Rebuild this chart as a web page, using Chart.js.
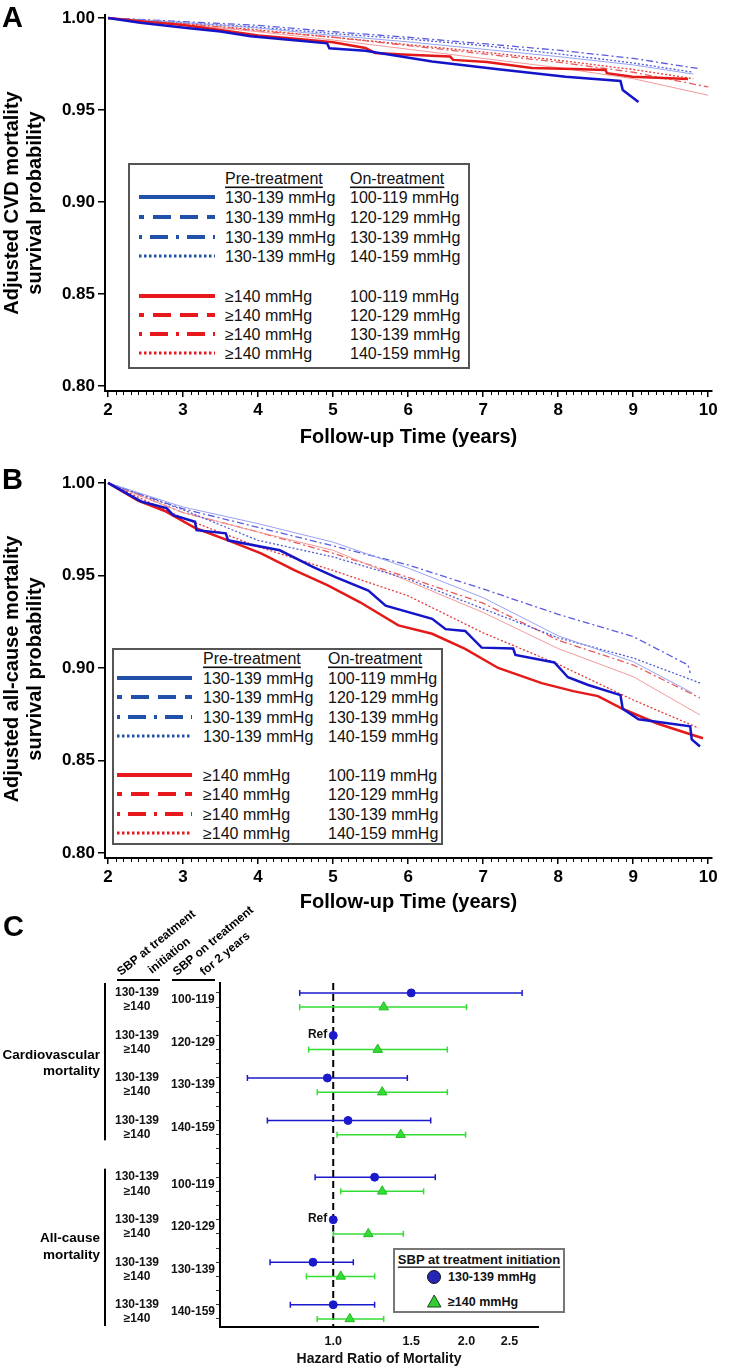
<!DOCTYPE html>
<html>
<head>
<meta charset="utf-8">
<script src="https://cdn.jsdelivr.net/npm/chart.js@4.4.1/dist/chart.umd.min.js"></script>
<style>
body { margin: 0; background: #fff; }
#wrap { position: relative; width: 730px; height: 1369px; overflow: hidden; font-family: "Liberation Sans", Arial, sans-serif; }
canvas, svg, .tag { position: absolute; left: 0; }
.tag { font-weight: bold; font-size: 29px; line-height: 1; color: #000; }
</style>
</head>
<body>
<div id="wrap">
  <canvas id="chartA" width="730" height="450" style="top:0px"></canvas>
  <canvas id="chartB" width="730" height="450" style="top:465px"></canvas>
  <canvas id="chartC" width="730" height="489" style="top:880px"></canvas>
  <div class="tag" style="left:2px;top:3px">A</div>
  <div class="tag" style="left:2px;top:465px">B</div>
  <div class="tag" style="left:3px;top:912px">C</div>
  <svg id="legA" style="left:128px;top:163px" width="342" height="206"></svg>
  <svg id="legB" style="left:112px;top:648px" width="331" height="197"></svg>
  <svg id="legC" style="left:393px;top:1248px" width="172" height="65"></svg>
</div>
<script>
const FONT = '"Liberation Sans", Arial, sans-serif';

// ---- panel A: CVD mortality survival, [years, probability]
const cvdBlue100 = [[2,1.0],[2.43,0.9974],[3.05,0.9946],[3.5,0.9926],[3.9,0.990],[4.3,0.9885],[4.92,0.9862],[4.95,0.9835],[5.43,0.9822],[6.32,0.9763],[7.2,0.9721],[8.1,0.968],[8.83,0.9658],[8.86,0.9609],[9.07,0.9543]];
const cvdBlue120 = [[2,1.0],[3,0.9975],[4,0.9945],[5,0.9905],[6,0.987],[7,0.983],[8,0.979],[9,0.9745],[9.8,0.9695]];
const cvdBlue130 = [[2,1.0],[3,0.998],[4,0.996],[5,0.9925],[6,0.9895],[7,0.986],[8,0.9825],[9,0.978],[9.87,0.9725]];
const cvdBlue140 = [[2,1.0],[3,0.9975],[4,0.995],[5,0.9915],[6,0.9885],[7,0.985],[8,0.9805],[9,0.9755],[9.8,0.9705]];
const cvdRed100 = [[2,1.0],[2.5,0.998],[3,0.9962],[3.5,0.9935],[4,0.9905],[4.5,0.9887],[5,0.9868],[5.43,0.9837],[5.56,0.981],[6.0,0.980],[6.56,0.979],[6.6,0.9772],[7.05,0.976],[7.65,0.9728],[8.2,0.9722],[8.63,0.9717],[8.65,0.970],[8.99,0.968],[9.73,0.9668]];
const cvdRed120 = [[2,1.0],[3,0.9965],[4,0.9925],[5,0.988],[6,0.983],[7,0.978],[8,0.973],[9,0.967],[10,0.958]];
const cvdRed130 = [[2,1.0],[3,0.997],[4,0.993],[5,0.9895],[6,0.985],[7,0.9805],[8,0.976],[9,0.9705],[10,0.9625]];
const cvdRed140 = [[2,1.0],[3,0.997],[4,0.9935],[5,0.9895],[6,0.9855],[7,0.9815],[8,0.977],[9,0.972],[9.8,0.967]];

// ---- panel B: all-cause mortality survival
const allBlue100 = [[2,1.0],[2.44,0.990],[2.78,0.9864],[2.87,0.9826],[3.16,0.979],[3.18,0.9745],[3.57,0.9728],[3.6,0.969],[4.29,0.9636],[4.73,0.9546],[5.04,0.949],[5.47,0.9418],[5.7,0.9337],[6.32,0.9266],[6.5,0.921],[6.76,0.920],[6.98,0.911],[7.4,0.9105],[7.43,0.907],[7.95,0.903],[8.13,0.895],[8.4,0.8908],[8.83,0.8853],[8.86,0.878],[9.07,0.8723],[9.76,0.8685],[9.78,0.8614],[9.89,0.8576]];
const allBlue120 = [[2,1.0],[3,0.987],[4,0.978],[5,0.968],[6,0.954],[7,0.938],[8,0.9174],[9,0.9034],[9.79,0.8865]];
const allBlue130 = [[2,1.0],[3,0.986],[4,0.976],[5,0.966],[6,0.9557],[7,0.9427],[8,0.929],[9,0.917],[9.73,0.9016],[9.76,0.8973]];
const allBlue140 = [[2,1.0],[3,0.9855],[4,0.969],[5,0.960],[6,0.948],[7,0.932],[8,0.9163],[9,0.9054],[9.89,0.8919]];
const allRed100 = [[2,1.0],[2.4,0.9905],[2.75,0.985],[3.17,0.9755],[3.6,0.969],[4.04,0.962],[4.49,0.9527],[4.93,0.9446],[5.36,0.9355],[5.87,0.923],[6.32,0.9185],[6.76,0.9103],[7.2,0.900],[7.78,0.8918],[8.2,0.8875],[8.53,0.8848],[8.87,0.8777],[9.32,0.870],[9.72,0.8647],[9.93,0.862]];
const allRed120 = [[2,1.0],[3,0.984],[4,0.9735],[5,0.9636],[6,0.947],[7,0.930],[8,0.9105],[9,0.8953],[9.89,0.8746]];
const allRed130 = [[2,1.0],[3,0.984],[4,0.9735],[5,0.962],[6,0.949],[7,0.935],[8,0.915],[9,0.9016],[9.89,0.8838]];
const allRed140 = [[2,1.0],[3,0.981],[4,0.9655],[5,0.9527],[6,0.939],[7,0.919],[8,0.902],[9,0.8827],[9.87,0.8676]];

const xTickValues = [2, 3, 4, 5, 6, 7, 8, 9, 10];
const yTickValues = [0.80, 0.85, 0.90, 0.95, 1.00];

// ---- legend text
const legendPre = ['130-139 mmHg','130-139 mmHg','130-139 mmHg','130-139 mmHg','≥140 mmHg','≥140 mmHg','≥140 mmHg','≥140 mmHg'];
const legendOn = ['100-119 mmHg','120-129 mmHg','130-139 mmHg','140-159 mmHg','100-119 mmHg','120-129 mmHg','130-139 mmHg','140-159 mmHg'];

// ---- panel C: hazard ratios (point, lower, upper); null = reference, no CI
const onTreatment = ['100-119', '120-129', '130-139', '140-159'];
const cvdBlueHR = [1.50, 1.00, 0.97, 1.08];
const cvdBlueLo = [0.84, null, 0.64, 0.71];
const cvdBlueHi = [2.67, null, 1.47, 1.66];
const cvdGreenHR = [1.30, 1.26, 1.29, 1.42];
const cvdGreenLo = [0.84, 0.88, 0.92, 1.02];
const cvdGreenHi = [2.00, 1.81, 1.81, 1.99];
const allBlueHR = [1.24, 1.00, 0.90, 1.00];
const allBlueLo = [0.91, null, 0.72, 0.80];
const allBlueHi = [1.70, null, 1.11, 1.24];
const allGreenHR = [1.29, 1.20, 1.04, 1.09];
const allGreenLo = [1.04, 1.00, 0.87, 0.92];
const allGreenHi = [1.60, 1.44, 1.24, 1.30];
const hrTicks = [1.0, 1.5, 2.0, 2.5];

// styles
const BLUE = '#1414c8', RED = '#e41a1a';
const styleThickBlue = { color: BLUE, width: 2.5 };
const styleThickRed = { color: RED, width: 2.5 };
const styleBlue120 = { color: '#97a3f2', width: 1 };
const styleBlue130 = { color: '#5b5be0', width: 1.3, dash: [7, 3, 2, 3] };
const styleBlue140 = { color: '#4e5bd8', width: 1.3, dash: [2, 2] };
const styleRed120 = { color: '#f49a9a', width: 1 };
const styleRed130 = { color: '#e85a5a', width: 1.3, dash: [7, 3, 2, 3] };
const styleRed140 = { color: '#e23a3a', width: 1.3, dash: [2, 2] };

function toXY(arr) { return arr.map(p => ({ x: p[0], y: p[1] })); }

const minorTicks = {
  id: 'minorTicks',
  afterDraw(chart) {
    const sx = chart.scales.x, ctx = chart.ctx, y0 = chart.chartArea.bottom;
    ctx.save();
    ctx.strokeStyle = '#000';
    ctx.lineWidth = 1;
    for (let i = 20; i <= 100; i++) {
      if (i % 10 === 0) continue;
      const px = Math.round(sx.getPixelForValue(i / 10)) + 0.5;
      ctx.beginPath(); ctx.moveTo(px, y0 + 1); ctx.lineTo(px, y0 + 4); ctx.stroke();
    }
    ctx.restore();
  }
};

function makeSurvival(id, curves, yTitle, padTop, xAxisH) {
  return new Chart(document.getElementById(id), {
    type: 'line',
    data: {
      datasets: curves.map(c => ({
        data: toXY(c[0]),
        borderColor: c[1].color,
        borderWidth: c[1].width,
        borderDash: c[1].dash || [],
        pointRadius: 0,
        tension: 0,
        fill: false
      }))
    },
    options: {
      responsive: false,
      animation: false,
      events: [],
      layout: { padding: { left: 0, right: 18, top: padTop, bottom: 0 } },
      plugins: { legend: { display: false }, tooltip: { enabled: false } },
      scales: {
        x: {
          type: 'linear', min: 1.96, max: 10.05,
          afterBuildTicks: s => { s.ticks = xTickValues.map(v => ({ value: v })); },
          afterFit: s => { s.height = xAxisH; },
          border: { color: '#000', width: 2 },
          grid: { drawOnChartArea: false, color: '#000', tickLength: 6, lineWidth: 1.5 },
          ticks: { color: '#000', padding: 3, maxRotation: 0, font: { family: FONT, size: 17, weight: 'bold' }, callback: v => String(v) },
          title: { display: true, text: 'Follow-up Time (years)', color: '#000', font: { family: FONT, size: 20, weight: 'bold' }, padding: { top: 0, bottom: 1 } }
        },
        y: {
          type: 'linear', min: 0.7973, max: 1.0016,
          afterBuildTicks: s => { s.ticks = yTickValues.map(v => ({ value: v })); },
          afterFit: s => { s.width = 105; },
          border: { color: '#000', width: 2 },
          grid: { drawOnChartArea: false, color: '#000', tickLength: 7, lineWidth: 1.5 },
          ticks: { color: '#000', padding: 3, font: { family: FONT, size: 17, weight: 'bold' }, callback: v => v.toFixed(2) },
          title: { display: true, text: yTitle, color: '#000', font: { family: FONT, size: 20, weight: 'bold', lineHeight: 1.15 }, padding: { top: 1, bottom: 0 } }
        }
      }
    },
    plugins: [minorTicks]
  });
}

makeSurvival('chartA', [
  [cvdBlue100, styleThickBlue], [cvdRed100, styleThickRed],
  [cvdBlue120, styleBlue120], [cvdBlue130, styleBlue130], [cvdBlue140, styleBlue140],
  [cvdRed120, styleRed120], [cvdRed130, styleRed130], [cvdRed140, styleRed140]
], ['Adjusted CVD mortality', 'survival probability'], 15, 59);

makeSurvival('chartB', [
  [allBlue100, styleThickBlue], [allRed100, styleThickRed],
  [allBlue120, styleBlue120], [allBlue130, styleBlue130], [allBlue140, styleBlue140],
  [allRed120, styleRed120], [allRed130, styleRed130], [allRed140, styleRed140]
], ['Adjusted all-cause mortality', 'survival probability'], 15, 57);

// ---- legends A and B
const sampleStyles = [
  { w: 4, dash: null, off: 0 },
  { w: 4, dash: '18 9', off: 13 },
  { w: 4, dash: '3 8 18 8', off: 0 },
  { w: 3, dash: '2.5 2.5', off: 0 }
];
function buildLegend(id, g) {
  const svg = document.getElementById(id);
  let s = `<rect x="1" y="1" width="${g.w - 2}" height="${g.h - 2}" fill="#fff" stroke="#555" stroke-width="2"/>`;
  s += `<g font-family='${FONT}' font-size="16" fill="#111" dominant-baseline="central">`;
  s += `<text x="${g.c1}" y="${g.head}" text-decoration="underline">Pre-treatment</text>`;
  s += `<text x="${g.c2}" y="${g.head}" text-decoration="underline">On-treatment</text>`;
  g.rows.forEach((ry, i) => {
    const st = sampleStyles[i % 4];
    const col = i < 4 ? '#2050a8' : '#e8191c';
    s += `<line x1="${g.l0}" x2="${g.l1}" y1="${ry}" y2="${ry}" stroke="${col}" stroke-width="${st.w}"` +
      (st.dash ? ` stroke-dasharray="${st.dash}" stroke-dashoffset="${st.off}"` : '') + '/>';
    s += `<text x="${g.c1}" y="${ry}">${legendPre[i]}</text>`;
    s += `<text x="${g.c2}" y="${ry}">${legendOn[i]}</text>`;
  });
  s += '</g>';
  svg.innerHTML = s;
}
buildLegend('legA', { w: 342, h: 206, head: 15, rows: [34, 54, 74, 93, 133, 152, 171, 190], l0: 11, l1: 87, c1: 97, c2: 222 });
buildLegend('legB', { w: 331, h: 197, head: 10, rows: [30, 49, 69, 88, 127, 146, 166, 185], l0: 5, l1: 80, c1: 91, c2: 216 });

// ---- panel C forest plot (canvas starts at page y 880)
const C_BLUE = '#1a1acc', C_GREEN = '#33dd33';
const blueRows = [0, 3, 6, 9, 13, 16, 19, 22];
const greenRows = blueRows.map(u => u + 1);
const blueHR = cvdBlueHR.concat(allBlueHR), blueLo = cvdBlueLo.concat(allBlueLo), blueHi = cvdBlueHi.concat(allBlueHi);
const greenHR = cvdGreenHR.concat(allGreenHR), greenLo = cvdGreenLo.concat(allGreenLo), greenHi = cvdGreenHi.concat(allGreenHi);

const ciSets = [];
blueRows.forEach((u, i) => { if (blueLo[i] !== null) ciSets.push({ lo: blueLo[i], hi: blueHi[i], u, color: C_BLUE }); });
greenRows.forEach((u, i) => { ciSets.push({ lo: greenLo[i], hi: greenHi[i], u, color: C_GREEN }); });

const forestDecor = {
  id: 'forestDecor',
  beforeDatasetsDraw(chart) {
    const { ctx, chartArea } = chart, sx = chart.scales.x;
    const px = sx.getPixelForValue(1);
    ctx.save();
    ctx.strokeStyle = '#000'; ctx.lineWidth = 2; ctx.setLineDash([7, 4]);
    ctx.beginPath(); ctx.moveTo(px, chartArea.top); ctx.lineTo(px, chartArea.bottom); ctx.stroke();
    ctx.restore();
  },
  afterDatasetsDraw(chart) {
    const ctx = chart.ctx, sx = chart.scales.x, sy = chart.scales.y;
    ctx.save();
    // CI caps
    ctx.lineWidth = 1.5;
    ciSets.forEach(c => {
      const y = sy.getPixelForValue(c.u);
      ctx.strokeStyle = c.color;
      [c.lo, c.hi].forEach(v => {
        const x = sx.getPixelForValue(v);
        ctx.beginPath(); ctx.moveTo(x, y - 3); ctx.lineTo(x, y + 3); ctx.stroke();
      });
    });
    // Ref labels
    ctx.fillStyle = '#111';
    ctx.font = `bold 12px ${FONT}`;
    ctx.textAlign = 'right'; ctx.textBaseline = 'middle';
    blueRows.forEach((u, i) => {
      if (blueLo[i] === null) ctx.fillText('Ref', sx.getPixelForValue(blueHR[i]) - 6, sy.getPixelForValue(u) - 1);
    });
    // row labels
    ctx.textAlign = 'center';
    blueRows.forEach((u, i) => {
      ctx.fillText('130-139', 137, sy.getPixelForValue(u));
      ctx.fillText('≥140', 137, sy.getPixelForValue(u + 1));
      ctx.fillText(onTreatment[i % 4], 193, sy.getPixelForValue(u + 0.5));
    });
    // group bars and labels
    ctx.fillStyle = '#000';
    ctx.fillRect(104, sy.getPixelForValue(-0.7), 2, sy.getPixelForValue(10.4) - sy.getPixelForValue(-0.7));
    ctx.fillRect(104, sy.getPixelForValue(12.4), 2, sy.getPixelForValue(23.5) - sy.getPixelForValue(12.4));
    ctx.font = `bold 13.5px ${FONT}`;
    ctx.textAlign = 'right';
    ctx.fillText('Cardiovascular', 100, sy.getPixelForValue(4.4));
    ctx.fillText('mortality', 100, sy.getPixelForValue(5.55));
    ctx.fillText('All-cause', 100, sy.getPixelForValue(17.3));
    ctx.fillText('mortality', 100, sy.getPixelForValue(18.5));
    // column headers
    ctx.fillRect(117, 99, 43, 2);
    ctx.fillRect(172, 99, 43, 2);
    ctx.font = `bold 12px ${FONT}`;
    ctx.textAlign = 'left'; ctx.textBaseline = 'alphabetic';
    const heads = [['SBP at treatment', 121, 96, -39], ['initiation', 152, 94, -39], ['SBP on treatment', 177, 96, -40], ['for 2 years', 204, 96, -40]];
    heads.forEach(h => {
      ctx.save(); ctx.translate(h[1], h[2]); ctx.rotate(h[3] * Math.PI / 180); ctx.fillText(h[0], 0, 0); ctx.restore();
    });
    ctx.restore();
  }
};

const forestDatasets = [
  { data: blueRows.map((u, i) => ({ x: blueHR[i], y: u })), pointStyle: 'circle', pointRadius: 4, backgroundColor: C_BLUE, borderColor: C_BLUE, borderWidth: 1 },
  { data: greenRows.map((u, i) => ({ x: greenHR[i], y: u })), pointStyle: 'triangle', pointRadius: 5.5, backgroundColor: C_GREEN, borderColor: '#22b822', borderWidth: 1 }
].concat(ciSets.map(c => ({
  data: [{ x: c.lo, y: c.u }, { x: c.hi, y: c.u }],
  showLine: true, pointRadius: 0, borderColor: c.color, borderWidth: 1.5
})));

new Chart(document.getElementById('chartC'), {
  type: 'scatter',
  data: { datasets: forestDatasets },
  options: {
    responsive: false,
    animation: false,
    events: [],
    layout: { padding: { left: 0, right: 192, top: 103, bottom: 0 } },
    plugins: { legend: { display: false }, tooltip: { enabled: false } },
    scales: {
      x: {
        type: 'logarithmic', min: 0.555, max: 2.9,
        afterBuildTicks: s => { s.ticks = hrTicks.map(v => ({ value: v })); },
        afterFit: s => { s.height = 42; },
        border: { color: '#000', width: 2 },
        grid: { drawOnChartArea: false, drawTicks: false },
        ticks: { color: '#111', padding: 7, maxRotation: 0, font: { family: FONT, size: 12.5, weight: 'bold' }, callback: v => Number(v).toFixed(1) },
        title: { display: true, text: 'Hazard Ratio of Mortality', color: '#111', font: { family: FONT, size: 14, weight: 'bold' }, padding: { top: 0, bottom: 1 } }
      },
      y: {
        type: 'linear', reverse: true, min: -0.7, max: 23.57,
        afterBuildTicks: s => { const t = []; for (let v = 0; v <= 23; v++) t.push({ value: v }); s.ticks = t; },
        afterFit: s => { s.width = 220; },
        border: { color: '#000', width: 2 },
        grid: { drawOnChartArea: false, color: '#333', tickLength: 4, lineWidth: 1 },
        ticks: { display: false }
      }
    }
  },
  plugins: [forestDecor]
});

// ---- legend C
document.getElementById('legC').innerHTML =
  `<rect x="1" y="1" width="170" height="63" fill="#fff" stroke="#777" stroke-width="2"/>` +
  `<g font-family='${FONT}' font-weight="bold" font-size="12.5" fill="#111" dominant-baseline="central">` +
  `<text x="86" y="11" text-anchor="middle" text-decoration="underline" font-size="13">SBP at treatment initiation</text>` +
  `<circle cx="41" cy="29" r="6.5" fill="#2626b4" stroke="#111" stroke-width="1"/>` +
  `<text x="55" y="29">130-139 mmHg</text>` +
  `<polygon points="34.5,59 48,59 41.2,47" fill="#33cc33" stroke="#1a4a1a" stroke-width="1"/>` +
  `<text x="55" y="54">≥140 mmHg</text></g>`;
</script>
</body>
</html>
